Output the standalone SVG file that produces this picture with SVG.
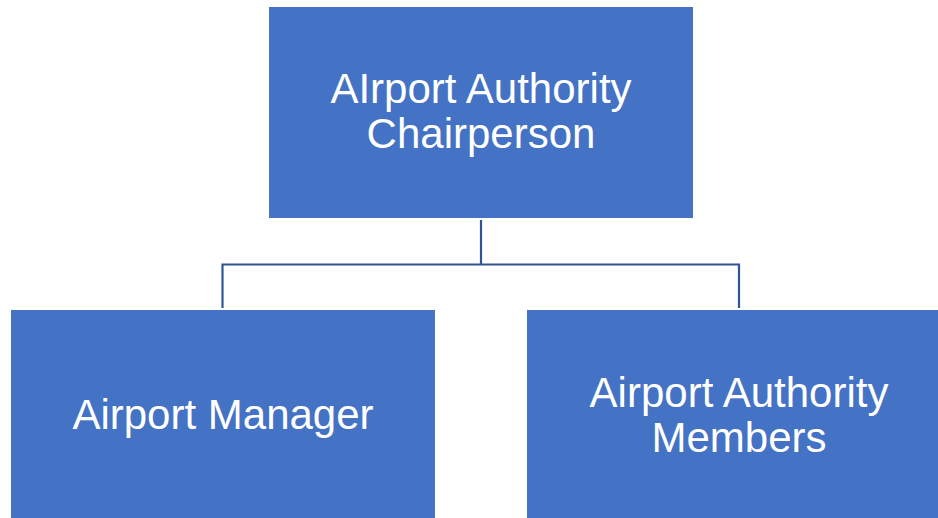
<svg xmlns="http://www.w3.org/2000/svg" width="938" height="518" viewBox="0 0 938 518">
<style>
.box{fill:#4472C4;stroke:#FFFFFF;stroke-width:1}
.lbl{fill:#FFFFFF;font-family:"Liberation Sans",Arial,sans-serif;font-size:42px;text-anchor:middle}
.conn{fill:none;stroke:#2F5597;stroke-width:2.2}
</style>
<rect width="938" height="518" fill="#FFFFFF"/>
<g id="connectors">
<path class="conn" d="M481,220 V264.5 M222.5,308 V264.5 H739 V308"/>
</g>
<g id="chairperson">
<rect class="box" x="268.5" y="6.5" width="425" height="212"/>
<text class="lbl" x="481" y="103">AIrport Authority</text>
<text class="lbl" x="481" y="148">Chairperson</text>
</g>
<g id="manager">
<rect class="box" x="10.5" y="309.5" width="425" height="212"/>
<text class="lbl" x="223" y="429">Airport Manager</text>
</g>
<g id="members">
<rect class="box" x="526.5" y="309.5" width="425" height="212"/>
<text class="lbl" x="739" y="407">Airport Authority</text>
<text class="lbl" x="739" y="452">Members</text>
</g>
</svg>
